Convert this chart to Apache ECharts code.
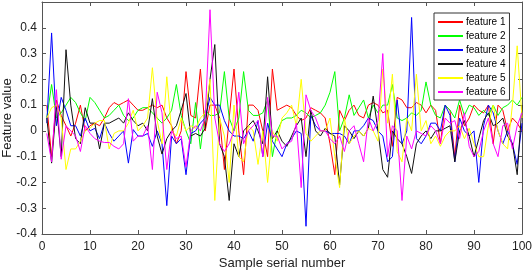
<!DOCTYPE html>
<html>
<head>
<meta charset="utf-8">
<script src="https://cdn.jsdelivr.net/npm/echarts@6/dist/echarts.min.js"></script>
<style>
  html, body { margin: 0; padding: 0; background: #fff; }
  #chart { width: 532px; height: 272px; }
</style>
</head>
<body>
<div id="chart"></div>
<script>
// sample numbers 1..100 on the x axis
const sampleIdx = [];
for (let i = 1; i <= 100; i++) sampleIdx.push(i);

const seriesNames = ['feature 1', 'feature 2', 'feature 3', 'feature 4', 'feature 5', 'feature 6'];
const colors = ['#ff0000', '#00ff00', '#0000ff', '#111111', '#ffff00', '#ff00ff'];

const feature1 = [
  0.10, -0.10, 0.12, 0.06, 0.02, -0.02, 0.03, 0.10, 0.00, 0.02,
  0.03, 0.02, 0.05, 0.09, 0.11, 0.10, 0.11, 0.12, 0.10, 0.08,
  0.08, 0.09, 0.10, 0.09, 0.10, 0.05, 0.02, -0.05, 0.00, 0.23,
  0.06, 0.05, 0.24, 0.00, 0.10, 0.10, 0.05, -0.15, 0.05, 0.24,
  0.00, -0.17, 0.10, 0.10, 0.08, 0.00, -0.10, 0.24, 0.08, 0.09,
  0.10, 0.09, 0.06, 0.04, 0.05, 0.09, 0.08, 0.07, 0.05, -0.05,
  -0.17, 0.08, 0.04, 0.08, 0.10, 0.06, 0.05, 0.10, 0.11, 0.10,
  0.07, 0.08, -0.06, 0.13, 0.12, 0.09, 0.09, 0.11, 0.10, 0.07,
  0.10, 0.08, -0.05, 0.10, 0.08, -0.10, 0.10, 0.02, 0.05, 0.10,
  0.08, 0.07, 0.10, -0.05, 0.10, 0.08, 0.00, 0.05, 0.03, 0.00
];
const feature2 = [
  0.05, 0.18, 0.05, 0.07, 0.10, 0.13, 0.11, 0.07, 0.04, 0.13,
  0.11, 0.08, 0.05, 0.06, 0.08, 0.10, 0.06, 0.04, 0.05, 0.08,
  0.09, 0.09, 0.07, 0.05, 0.03, 0.05, 0.08, 0.18, 0.06, 0.00,
  -0.05, 0.11, -0.07, 0.08, 0.06, 0.06, 0.07, 0.23, 0.05, 0.00,
  0.05, 0.23, 0.08, 0.06, 0.06, 0.07, 0.12, -0.10, 0.00, 0.04,
  0.05, 0.05, 0.06, 0.08, 0.07, 0.05, 0.06, 0.07, 0.10, 0.15,
  0.23, 0.00, 0.05, 0.14, 0.06, 0.09, 0.12, 0.05, 0.10, 0.07,
  0.10, 0.10, 0.18, 0.05, 0.04, 0.05, 0.07, 0.06, 0.08, 0.19,
  0.10, 0.06, 0.05, 0.10, 0.08, 0.05, 0.12, 0.06, 0.10, 0.09,
  0.06, 0.08, 0.06, 0.10, 0.06, 0.09, 0.10, 0.12, 0.10, 0.13
];
const feature3 = [
  0.03, 0.38, 0.02, 0.13, 0.08, 0.02, 0.02, -0.02, 0.05, 0.00,
  0.01, -0.03, 0.03, -0.01, -0.04, -0.02, 0.00, -0.125, 0.005, -0.02,
  -0.02, -0.01, -0.06, 0.00, -0.05, -0.29, -0.02, -0.05, -0.03, -0.17,
  -0.01, 0.00, 0.03, 0.05, 0.13, 0.10, 0.10, 0.04, 0.00, -0.02,
  -0.02, -0.03, 0.00, -0.04, 0.04, -0.10, 0.03, -0.04, -0.07, -0.10,
  -0.05, -0.03, 0.00, -0.01, -0.37, 0.06, 0.02, 0.00, 0.00, -0.01,
  -0.01, -0.01, -0.02, -0.05, 0.00, 0.00, 0.02, 0.05, 0.04, 0.00,
  -0.02, -0.12, -0.10, 0.12, -0.05, 0.00, 0.44, -0.03, -0.05, -0.02,
  0.03, 0.03, 0.00, 0.10, 0.06, -0.12, 0.05, 0.00, -0.02, 0.00,
  -0.20, 0.02, 0.10, 0.07, 0.00, -0.05, 0.00, -0.05, -0.13, 0.03
];
const feature4 = [
  0.05, -0.125, 0.10, -0.10, 0.315, 0.10, -0.03, -0.05, 0.09, 0.03,
  0.03, -0.07, 0.03, 0.03, 0.04, 0.05, 0.03, 0.07, 0.04, 0.02,
  0.03, 0.00, 0.125, -0.02, -0.09, -0.03, 0.00, 0.02, 0.08, 0.145,
  -0.02, -0.01, -0.02, 0.01, 0.20, 0.335, -0.05, -0.10, -0.27, -0.05,
  -0.10, 0.00, 0.02, 0.04, 0.00, -0.05, 0.21, -0.03, 0.00, -0.04,
  -0.06, -0.02, 0.02, 0.05, -0.10, 0.08, 0.00, -0.02, 0.01, -0.01,
  -0.02, -0.21, 0.02, 0.00, -0.03, 0.00, -0.02, 0.01, 0.135, 0.00,
  -0.15, -0.18, 0.00, -0.03, -0.05, -0.10, -0.165, -0.05, -0.02, 0.00,
  -0.03, 0.00, 0.00, 0.01, 0.02, -0.12, 0.00, 0.04, -0.02, -0.10,
  -0.03, 0.04, 0.07, 0.02, 0.03, 0.05, -0.02, -0.05, -0.17, 0.10
];
const feature5 = [
  0.05, 0.09, 0.10, 0.05, -0.15, -0.07, -0.07, -0.04, 0.00, 0.01,
  0.03, 0.04, 0.04, -0.07, -0.01, 0.00, 0.00, 0.03, 0.08, 0.00,
  0.02, 0.05, 0.245, 0.04, -0.05, 0.21, 0.00, -0.02, 0.05, 0.00,
  0.02, 0.01, 0.05, 0.07, 0.20, -0.27, 0.05, -0.02, -0.20, 0.10,
  -0.10, -0.12, 0.02, 0.00, -0.13, 0.00, -0.20, 0.00, -0.04, 0.05,
  0.07, 0.10, 0.02, 0.20, -0.01, -0.04, -0.02, 0.00, 0.00, 0.05,
  -0.10, -0.22, 0.05, -0.05, -0.02, 0.00, -0.02, 0.01, 0.00, -0.04,
  0.24, 0.03, 0.22, -0.08, -0.12, 0.05, 0.00, 0.22, 0.00, 0.04,
  -0.05, -0.02, -0.06, -0.02, 0.00, 0.00, 0.02, -0.03, 0.01, -0.05,
  -0.10, -0.10, 0.02, 0.10, 0.00, -0.05, -0.07, 0.10, 0.33, 0.05
];
const feature6 = [
  -0.01, -0.12, 0.16, -0.11, 0.02, 0.00, -0.02, -0.08, 0.02, -0.01,
  -0.03, -0.04, -0.045, -0.045, -0.06, -0.07, -0.05, 0.125, -0.04, -0.02,
  -0.02, 0.02, -0.15, 0.15, 0.07, -0.15, 0.00, -0.03, -0.02, -0.14,
  0.00, 0.02, 0.00, 0.05, 0.47, 0.05, -0.05, -0.08, -0.05, 0.00,
  0.15, -0.05, 0.00, 0.02, 0.04, -0.10, 0.13, -0.02, -0.02, -0.07,
  -0.05, -0.04, 0.03, -0.22, 0.14, 0.08, 0.05, 0.00, 0.00, -0.03,
  -0.05, -0.02, -0.08, 0.00, 0.02, -0.05, -0.12, 0.05, 0.00, 0.04,
  0.30, -0.10, 0.02, 0.00, -0.27, -0.02, -0.07, 0.00, -0.01, -0.02,
  0.02, 0.00, -0.05, 0.05, 0.03, 0.04, -0.03, 0.07, -0.06, -0.10,
  -0.08, 0.00, 0.05, -0.05, -0.10, 0.02, 0.03, -0.07, 0.02, 0.07
];
const featureData = [feature1, feature2, feature3, feature4, feature5, feature6];

const chart = echarts.init(document.getElementById('chart'), null, { renderer: 'canvas' });

const labelFont = { fontFamily: 'Liberation Sans', fontSize: 12, color: '#222' };
const axisLine = { show: true, onZero: false, lineStyle: { color: '#555', width: 1 } };
const tickIn = { show: true, inside: true, length: 4, lineStyle: { color: '#555' } };
const nameFont = { fontFamily: 'Liberation Sans', fontSize: 13, color: '#222' };

chart.setOption({
  animation: false,
  color: colors,
  grid: { left: 42, right: 10, top: 2, bottom: 38, outerBoundsMode: 'none', containLabel: false },
  legend: {
    orient: 'vertical',
    left: 434, top: 13,
    data: seriesNames,
    icon: 'rect',
    itemWidth: 25, itemHeight: 2,
    itemGap: 2,
    padding: [3, 4, 2, 4],
    borderColor: '#333', borderWidth: 1, borderRadius: 0,
    backgroundColor: '#fff',
    textStyle: { fontFamily: 'Liberation Sans', fontSize: 10, color: '#000', lineHeight: 12, padding: [0, 0, 0, -2] }
  },
  xAxis: [
    {
      type: 'value', min: 0, max: 100, interval: 10,
      name: 'Sample serial number', nameLocation: 'middle', nameGap: 23, nameMoveOverlap: false,
      nameTextStyle: nameFont,
      axisLine: axisLine, axisTick: tickIn,
      axisLabel: Object.assign({ margin: 7 }, labelFont),
      splitLine: { show: false }
    },
    {
      type: 'value', min: 0, max: 100, interval: 10, position: 'top',
      axisLine: axisLine, axisTick: tickIn, axisLabel: { show: false }, splitLine: { show: false }
    }
  ],
  yAxis: [
    {
      type: 'value', min: -0.4, max: 0.5, interval: 0.1,
      name: 'Feature value', nameLocation: 'middle', nameGap: 28, nameMoveOverlap: false,
      nameTextStyle: nameFont,
      axisLine: axisLine, axisTick: tickIn,
      axisLabel: Object.assign({
        margin: 5, showMaxLabel: false,
        formatter: v => (Math.round(v * 10) / 10).toString()
      }, labelFont),
      splitLine: { show: false }
    },
    {
      type: 'value', min: -0.4, max: 0.5, interval: 0.1, position: 'right',
      axisLine: axisLine, axisTick: tickIn, axisLabel: { show: false }, splitLine: { show: false }
    }
  ],
  series: seriesNames.map((name, k) => ({
    name: name,
    type: 'line',
    symbol: 'none',
    lineStyle: { width: 1, color: colors[k] },
    itemStyle: { color: colors[k] },
    data: featureData[k].map((v, j) => [sampleIdx[j], v])
  }))
});
</script>
</body>
</html>
